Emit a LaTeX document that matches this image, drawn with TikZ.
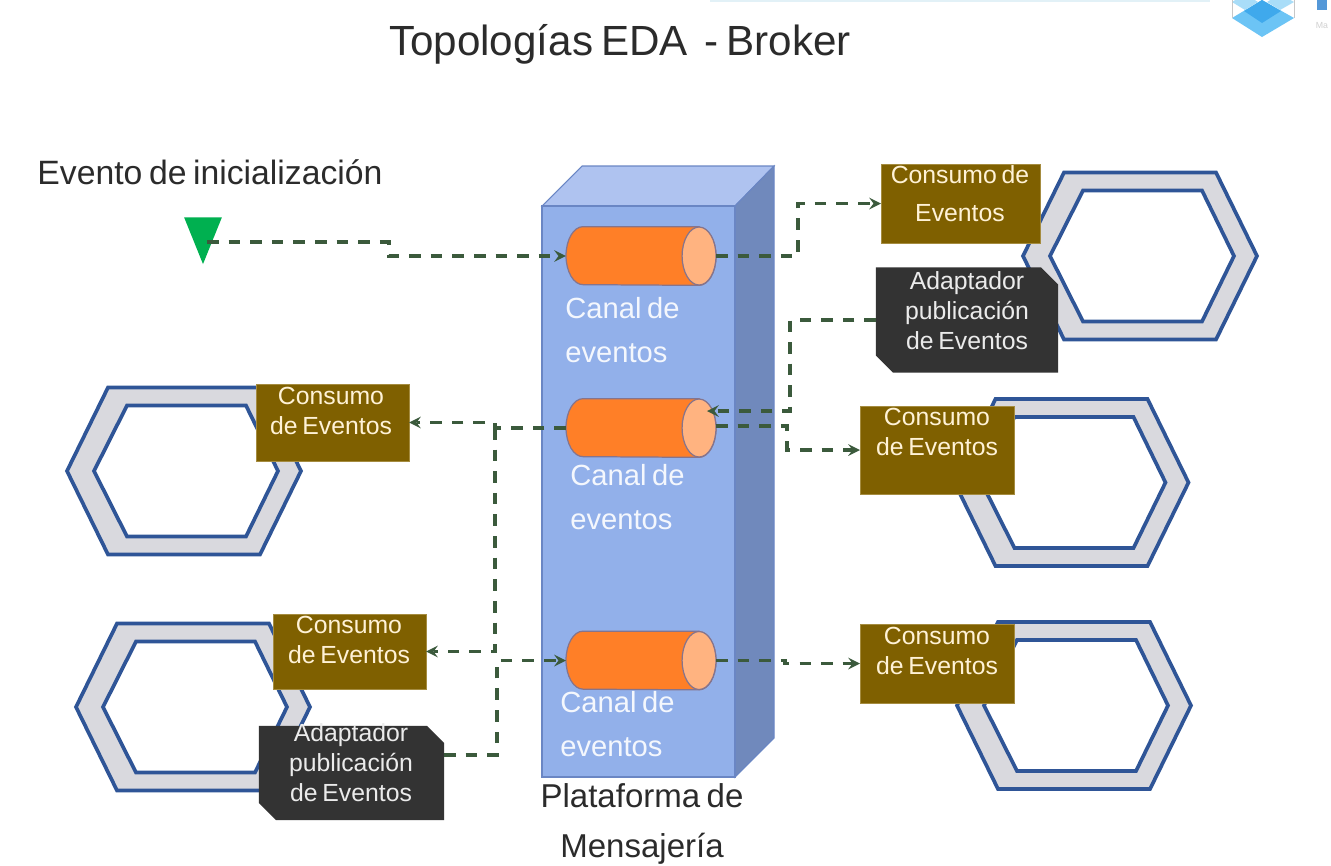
\documentclass[tikz,border=0pt]{standalone}
\usepackage{fontspec}
\setmainfont[WordSpace=0.7]{Liberation Sans}
\usepackage{xcolor}
\usetikzlibrary{positioning,shapes.geometric,arrows,calc}
\definecolor{brown}{HTML}{7F6000}
\definecolor{cream}{HTML}{FFF2D6}
\definecolor{slate}{HTML}{333333}
\definecolor{ink}{HTML}{2B2B2B}
\definecolor{hexblue}{HTML}{2F5597}
\definecolor{hexgray}{HTML}{D9D9DE}
\definecolor{wire}{HTML}{3B5A3C}
\definecolor{front}{HTML}{92B0EA}
\definecolor{lid}{HTML}{AFC3F0}
\definecolor{flank}{HTML}{7089BC}
\definecolor{edge}{HTML}{6A86C4}
\definecolor{pipe}{HTML}{FF7F27}
\definecolor{pipecap}{HTML}{FFB380}
\definecolor{pipeedge}{HTML}{86748C}
\definecolor{trigger}{HTML}{00B050}
\definecolor{logoA}{HTML}{6CC4F5}
\definecolor{logoB}{HTML}{A9DDF8}
\definecolor{logoC}{HTML}{3FA9EC}
\tikzset{
  >=stealth,
  consumo/.style = {fill=brown, draw=brown!70!cream, line width=0.3pt, inner sep=0pt},
  adapta/.style  = {inner sep=0pt},
  canal/.style   = {minimum width=85pt, minimum height=33pt, inner sep=0pt},
  pipeline/.style = {draw=pipeedge, line width=0.7pt},
  flow/.style    = {->, draw=wire, line width=1.9pt, dash pattern=on 6.6pt off 5.7pt},
  boxtxt/.style  = {text=cream, align=center, inner sep=0pt,
                    font=\fontsize{14.1}{17}\selectfont},
  darktxt/.style = {text=black!8, align=center, inner sep=0pt,
                    font=\fontsize{14.1}{17}\selectfont},
  chantxt/.style = {text=white!90!front, align=left, inner sep=0pt,
                    font=\fontsize{16.6}{25}\selectfont},
  plain/.style   = {text=ink, align=center, inner sep=0pt},
  hexband/.style = {fill=hexgray, draw=hexblue, line width=2.1pt, line join=miter},
  hexhole/.style = {fill=white, draw=hexblue, line width=2.1pt, line join=miter},
}
\newcommand{\hexring}[2]{%
  \draw[hexband] (#1-117,#2) -- (#1-76,#2-83.5) -- (#1+76,#2-83.5) -- (#1+117,#2)
    -- (#1+76,#2+83.5) -- (#1-76,#2+83.5) -- cycle;
  \draw[hexhole] (#1-90,#2) -- (#1-57,#2-65.5) -- (#1+62,#2-65.5) -- (#1+94,#2)
    -- (#1+62,#2+65.5) -- (#1-57,#2+65.5) -- cycle;
}
\newcommand{\cutbox}[1]{%
  \fill[slate] (#1.north west) -- ($(#1.north east)+(-17,0)$) -- ($(#1.north east)+(0,17)$)
    -- (#1.south east) -- ($(#1.south west)+(17,0)$) -- ($(#1.south west)+(0,-17)$) -- cycle;
}
\newcommand{\pipebody}[1]{%
  \draw[pipeline, fill=pipe] ($(#1.north east)+(-17,0)$) -- ($(#1.north west)+(17,0)$)
    arc[start angle=90, end angle=270, x radius=9.64pt, y radius=16.5pt]
    -- ($(#1.south east)+(-17,0)$)
    arc[start angle=-90, end angle=90, x radius=9.64pt, y radius=16.5pt] -- cycle;
  \draw[pipeline, fill=pipecap] ($(#1.east)+(-17,0)$) ellipse [x radius=9.64pt, y radius=16.5pt];
}
\begin{document}
\begin{tikzpicture}[x=0.2mm,y=-0.2mm]
\useasboundingbox (0,0) rectangle (1331,865);
\fill[white] (0,0) rectangle (1331,865);

% ---- corner of the slide ----------------------------------------------
\fill[black!25!cyan!12] (710,0) rectangle (1210,1.5);
\fill[logoA] (1232,18) -- (1262,0) -- (1294,18) -- (1262,37) -- cycle;
\fill[logoC] (1244,11) -- (1262,0) -- (1281,11) -- (1262,23) -- cycle;
\fill[logoB] (1232,2) -- (1245,-6) -- (1258,2) -- (1245,10) -- cycle;
\fill[logoB] (1267,2) -- (1280,-6) -- (1294,2) -- (1280,10) -- cycle;
\draw[black!22, line width=0.5pt] (1232,0) -- (1232,18) (1294,0) -- (1294,18);
\fill[cyan!60!blue!70] (1317,0) rectangle (1327,10);
\node[text=black!18, inner sep=0pt, font=\fontsize{5}{6}\selectfont] (marca) at (1322,26) {Ma};

\node[plain, font=\fontsize{24}{28}\selectfont] (titulo) at (620,44) {Topologías EDA\ \ - Broker};
\node[plain, font=\fontsize{19.2}{24}\selectfont] (inicio) at (210,172) {Evento de inicialización};

% ---- hexagons ---------------------------------------------------------
\hexring{1140}{256}
\hexring{184}{471}
\hexring{193}{707}
\hexring{1071.5}{482.5}
\hexring{1074}{705.5}

% ---- platform block ---------------------------------------------------
\fill[lid, draw=edge, line width=0.6pt] (542,206) -- (582,166) -- (774,166) -- (735,206) -- cycle;
\fill[flank, draw=edge, line width=0.6pt] (735,206) -- (774,166) -- (774,738) -- (735,777) -- cycle;
\fill[front, draw=edge, line width=0.6pt] (542,206) rectangle (735,777);

% ---- channels ---------------------------------------------------------
\node[canal] (canalA) at (641,256) {};
\node[canal] (canalB) at (641,428) {};
\node[canal] (canalC) at (641,660.5) {};
\pipebody{canalA}
\pipebody{canalB}
\pipebody{canalC}
\node[chantxt, anchor=west] (txtA) at (565,330) {Canal de\\eventos};
\node[chantxt, anchor=west] (txtB) at (570,497) {Canal de\\eventos};
\node[chantxt, anchor=west] (txtC) at (560,724) {Canal de\\eventos};
\node[plain, font=\fontsize{18.8}{28}\selectfont] (plataforma) at (642,824) {Plataforma de\\Mensajería};

% ---- consumers and publishers -----------------------------------------
\node[consumo, minimum width=90.2pt, minimum height=44.8pt] (consA) at (960.5,203.5) {};
\node[consumo, minimum width=87.9pt, minimum height=49.9pt] (consB) at (937.5,450) {};
\node[consumo, minimum width=87.9pt, minimum height=44.8pt] (consC) at (937.5,663.5) {};
\node[consumo, minimum width=86.8pt, minimum height=43.7pt] (consD) at (332.5,422.5) {};
\node[consumo, minimum width=86.8pt, minimum height=42.5pt] (consE) at (349.5,651.5) {};
\node[adapta, minimum width=103.2pt, minimum height=59.5pt] (adapA) at (967,320) {};
\node[adapta, minimum width=104.9pt, minimum height=53.3pt] (adapB) at (351.5,773) {};
\cutbox{adapA}
\cutbox{adapB}
\node[boxtxt] (lblA) at (960,194) {Consumo de\\[4.5pt]Eventos};
\node[boxtxt] (lblB) at (937,432) {Consumo\\de Eventos};
\node[boxtxt] (lblC) at (937,651) {Consumo\\de Eventos};
\node[boxtxt] (lblD) at (331,411) {Consumo\\de Eventos};
\node[boxtxt] (lblE) at (349,640) {Consumo\\de Eventos};
\node[darktxt] (lblF) at (967,311) {Adaptador\\publicación\\de Eventos};
\node[darktxt] (lblG) at (351,763) {Adaptador\\publicación\\de Eventos};

% ---- trigger ----------------------------------------------------------
\node[isosceles triangle, shape border rotate=-90, isosceles triangle stretches,
      fill=trigger, inner sep=0pt, minimum width=21.5pt, minimum height=26.6pt, anchor=apex]
  (disparo) at (203,265) {};

% ---- elbows -----------------------------------------------------------
\coordinate (a0) at (207,242);
\coordinate (a1) at (389,242);
\coordinate (a2) at (389,256);
\coordinate (b1) at (798,256);
\coordinate (b2) at (798,203.5);
\coordinate (c1) at (790,320);
\coordinate (c2) at (790,411);
\coordinate (c3) at (707,411);
\coordinate (d0) at (716,426);
\coordinate (d1) at (787,426);
\coordinate (d2) at (787,450);
\coordinate (e1) at (495,428);
\coordinate (e2) at (495,422.5);
\coordinate (e3) at (495,651.5);
\coordinate (f1) at (497,755);
\coordinate (f2) at (497,660.5);
\coordinate (g1) at (785,660.5);
\coordinate (g2) at (785,663.5);

% ---- event flow -------------------------------------------------------
\draw[flow] (a0) -- (a1) -- (a2) -- (canalA.west);
\draw[flow] (canalA.east) -- (b1) -- (b2) -- (consA.west);
\draw[flow] (adapA.west) -- (c1) -- (c2) -- (c3);
\draw[flow] (d0) -- (d1) -- (d2) -- (consB.west);
\draw[flow] (canalB.west) -- (e1) -- (e2) -- (consD.east);
\draw[flow] (e1) -- (e3) -- (consE.east);
\draw[flow] (adapB.east |- f1) -- (f1) -- (f2) -- (canalC.west);
\draw[flow] (canalC.east) -- (g1) -- (g2) -- (consC.west);

\end{tikzpicture}
\end{document}
